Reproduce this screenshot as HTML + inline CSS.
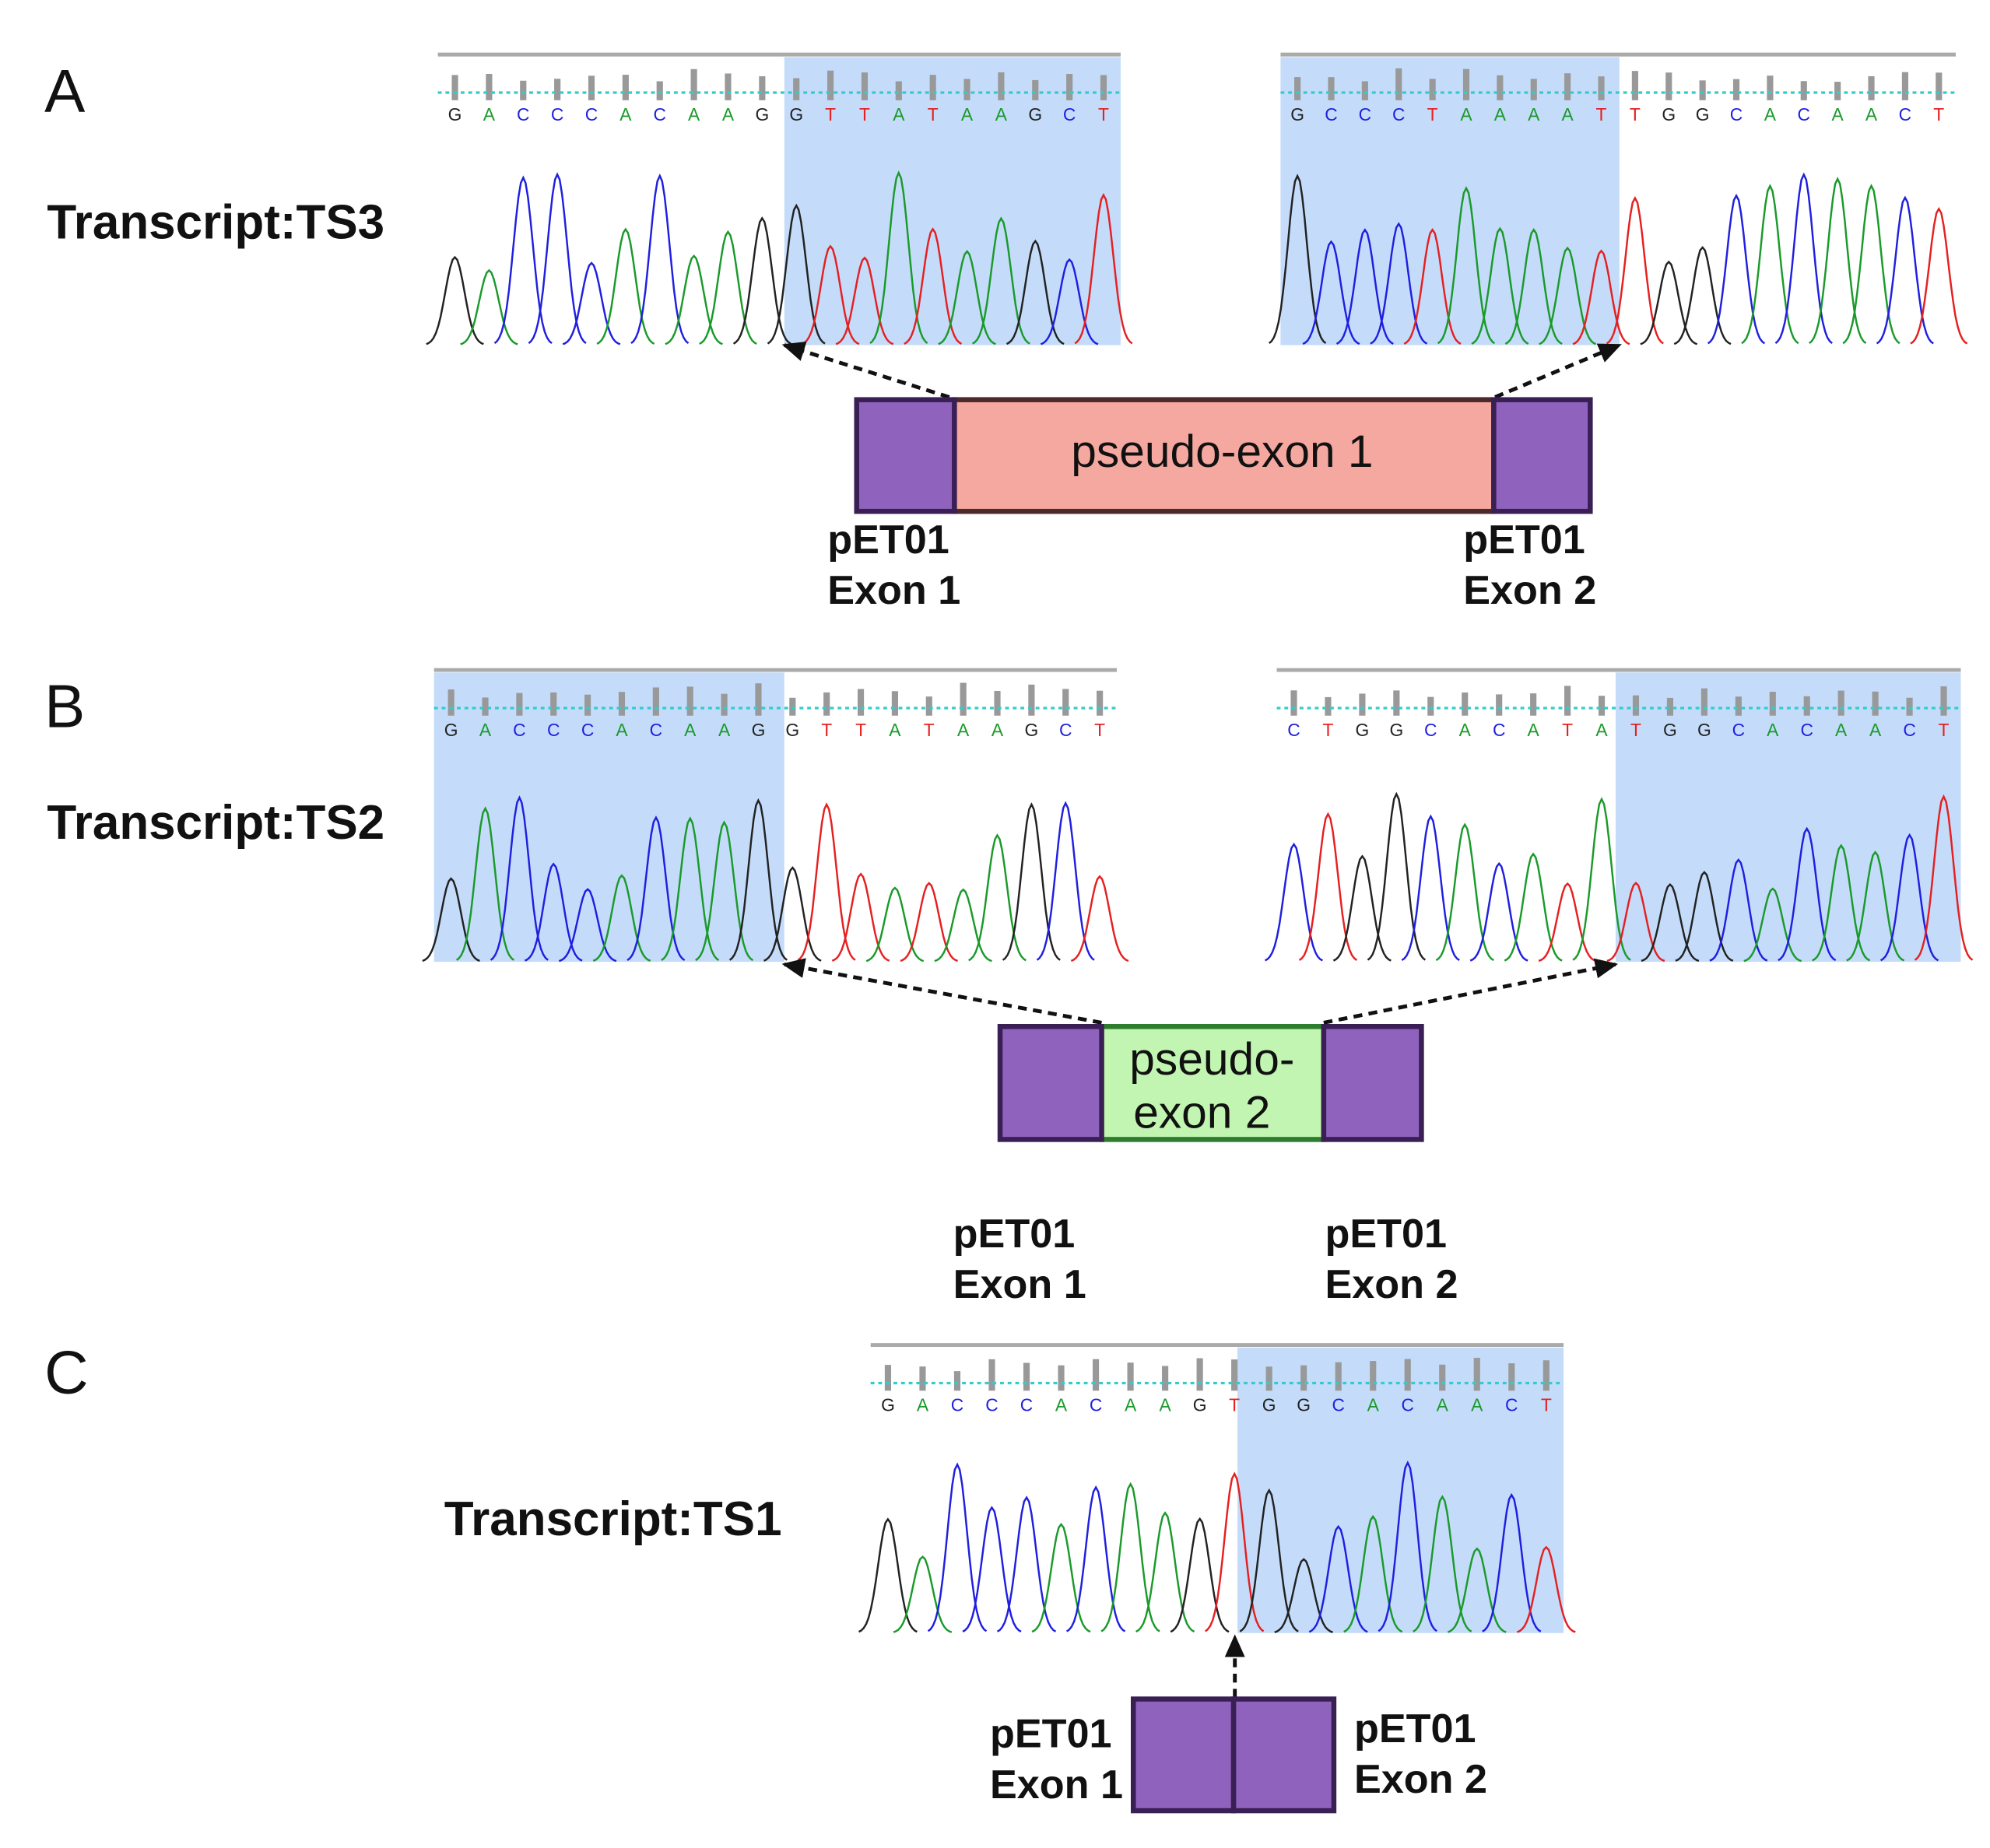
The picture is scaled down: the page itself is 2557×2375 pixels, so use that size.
<!DOCTYPE html>
<html><head><meta charset="utf-8"><style>
html,body{margin:0;padding:0;background:#fff;width:2557px;height:2375px;overflow:hidden}
#w{width:1568px;height:1456px;transform:scale(1.63074);transform-origin:0 0;position:relative}
svg{position:absolute;left:0;top:0}
text{font-family:"Liberation Sans",Arial,sans-serif}
.b{font-weight:bold;fill:#111}
</style></head><body><div id="w">
<svg id="s" width="1568" height="1456" viewBox="0 0 1568 1456" xmlns="http://www.w3.org/2000/svg">
<defs><marker id="ah" markerWidth="10" markerHeight="10" refX="8" refY="5" orient="auto" markerUnits="userSpaceOnUse"><path d="M0,0 L10,5 L0,10 z" fill="#111"/></marker>
<marker id="ah2" markerWidth="18" markerHeight="16" refX="16" refY="8" orient="auto" markerUnits="userSpaceOnUse"><path d="M0,0 L18,8 L0,16 z" fill="#111"/></marker></defs>
<g id="chroms"></g>
<!-- A -->
<text x="35" y="88" font-size="48" fill="#111">A</text>
<text x="37" y="188" font-size="38" class="b">Transcript:TS3</text>
<line x1="748" y1="313" x2="618" y2="272" stroke="#111" stroke-width="3" stroke-dasharray="7,5" marker-end="url(#ah2)"/>
<line x1="1178" y1="313" x2="1276" y2="272" stroke="#111" stroke-width="3" stroke-dasharray="7,5" marker-end="url(#ah2)"/>
<rect x="752" y="315" width="425" height="88" fill="#f5a8a0" stroke="#4a2a2a" stroke-width="4"/>
<rect x="675" y="315" width="77" height="88" fill="#8f63bd" stroke="#3a1f55" stroke-width="4"/>
<rect x="1177" y="315" width="76" height="88" fill="#8f63bd" stroke="#3a1f55" stroke-width="4"/>
<text x="963" y="368" font-size="36" text-anchor="middle" fill="#111">pseudo-exon 1</text>
<text x="652" y="436" font-size="32" class="b">pET01</text><text x="652" y="476" font-size="32" class="b">Exon 1</text>
<text x="1153" y="436" font-size="32" class="b">pET01</text><text x="1153" y="476" font-size="32" class="b">Exon 2</text>
<!-- B -->
<text x="35" y="573" font-size="48" fill="#111">B</text>
<text x="37" y="661" font-size="38" class="b">Transcript:TS2</text>
<line x1="868" y1="806" x2="618" y2="760" stroke="#111" stroke-width="3" stroke-dasharray="7,5" marker-end="url(#ah2)"/>
<line x1="1043" y1="806" x2="1273" y2="760" stroke="#111" stroke-width="3" stroke-dasharray="7,5" marker-end="url(#ah2)"/>
<rect x="868" y="809" width="175" height="89" fill="#c2f5b2" stroke="#2e7d2e" stroke-width="4"/>
<rect x="788" y="809" width="80" height="89" fill="#8f63bd" stroke="#3a1f55" stroke-width="4"/>
<rect x="1043" y="809" width="77" height="89" fill="#8f63bd" stroke="#3a1f55" stroke-width="4"/>
<text x="955" y="847" font-size="36" text-anchor="middle" fill="#111">pseudo-</text>
<text x="947" y="889" font-size="36" text-anchor="middle" fill="#111">exon 2</text>
<text x="751" y="983" font-size="32" class="b">pET01</text><text x="751" y="1023" font-size="32" class="b">Exon 1</text>
<text x="1044" y="983" font-size="32" class="b">pET01</text><text x="1044" y="1023" font-size="32" class="b">Exon 2</text>
<!-- C -->
<text x="35" y="1098" font-size="48" fill="#111">C</text>
<text x="350" y="1210" font-size="38" class="b">Transcript:TS1</text>
<line x1="973" y1="1338" x2="973" y2="1290" stroke="#111" stroke-width="3" stroke-dasharray="7,5" marker-end="url(#ah2)"/>
<rect x="893" y="1339" width="79" height="88" fill="#8f63bd" stroke="#3a1f55" stroke-width="4"/>
<rect x="972" y="1339" width="79" height="88" fill="#8f63bd" stroke="#3a1f55" stroke-width="4"/>
<text x="780" y="1377" font-size="32" class="b">pET01</text><text x="780" y="1417" font-size="32" class="b">Exon 1</text>
<text x="1067" y="1373" font-size="32" class="b">pET01</text><text x="1067" y="1413" font-size="32" class="b">Exon 2</text>
</svg>
</div>
<script>
(function(){
var NS="http://www.w3.org/2000/svg",g=document.getElementById("chroms");
var col={G:"#222",A:"#1a9a2a",C:"#1f1fe0",T:"#e52020"};
var seed=7;function rnd(){seed=(seed*9301+49297)%233280;return seed/233280;}
function el(t,a,p){var e=document.createElementNS(NS,t);for(var k in a)e.setAttribute(k,a[k]);(p||g).appendChild(e);return e;}
function chrom(x,y,w,h,s0,s1,letters,full){
  var sp=w/20;
  el("rect",{x:s0,y:y,width:s1-s0,height:h,fill:"#c4dcfa"});
  el("line",{x1:x,y1:y-2,x2:x+w,y2:y-2,stroke:"#aaa","stroke-width":3});
  for(var i=0;i<20;i++){var cx=x+sp*(i+0.5);var th=14+rnd()*12;
    el("rect",{x:cx-2.5,y:y+34-th,width:5,height:th,fill:"#999"});}
  el("line",{x1:x,y1:y+28,x2:x+w,y2:y+28,stroke:"#3cc","stroke-width":2,"stroke-dasharray":"3,3"});
  for(var i=0;i<20;i++){var c=letters[i];var t=el("text",{x:x+sp*(i+0.5),y:y+50,"font-size":14,"text-anchor":"middle",fill:col[c]});t.textContent=c;}
  var base=y+h;var top=y+90;
  for(var i=0;i<20;i++){var c=letters[i];var cx=x+sp*(i+0.5);var ph=(0.4+rnd()*0.6)*(base-top);
    var d="";var sg=sp*0.28;
    for(var k=-12;k<=12;k++){var xx=cx+k*sg/4;var yy=base-ph*Math.exp(-(k/4)*(k/4)/2);d+=(k==-12?"M":"L")+xx.toFixed(1)+","+yy.toFixed(1);}
    el("path",{d:d,fill:"none",stroke:col[c],"stroke-width":1.5});}
}
chrom(345,45,538,227,618,883,"GACCCACAAGGTTATAAGCT");
chrom(1009,45,532,227,1009,1276,"GCCCTAAAATTGGCACAACT");
chrom(342,530,538,228,342,618,"GACCCACAAGGTTATAAGCT");
chrom(1006,530,539,228,1273,1545,"CTGGCACATATGGCACAACT");
chrom(686,1062,546,225,975,1232,"GACCCACAAGTGGCACAACT");
})();
</script>
</body></html>
